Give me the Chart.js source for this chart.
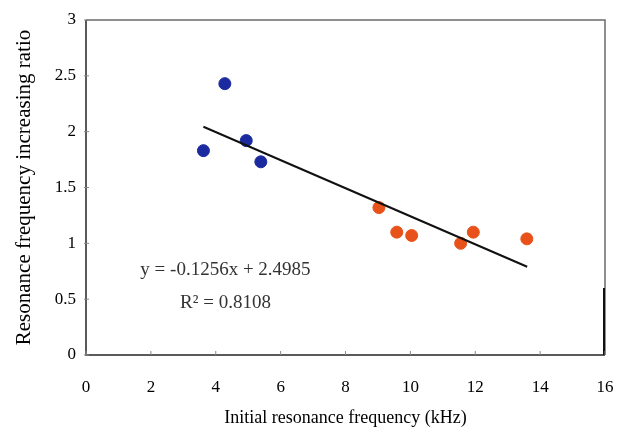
<!DOCTYPE html>
<html>
<head>
<meta charset="utf-8">
<script src="https://cdn.jsdelivr.net/npm/chart.js@4"></script>
<style>
	html, body { margin: 0; padding: 0; background: #fff; }
	#chart { display: block; }
</style>
</head>
<body>
<canvas id="chart" width="628" height="432"></canvas>
<script>
// **DATOS**
const blueX = [3.62, 4.28, 4.94, 5.39];
const blueY = [1.83, 2.43, 1.92, 1.73];
const orangeX = [9.03, 9.58, 10.04, 11.55, 11.94, 13.59];
const orangeY = [1.32, 1.10, 1.07, 1.00, 1.10, 1.04];
const trendX = [3.62, 13.6];
const trendY = [2.044, 0.79];
const xTicks = [0, 2, 4, 6, 8, 10, 12, 14, 16];
const yTicks = [0, 0.5, 1, 1.5, 2, 2.5, 3];
const equationLines = ['y = -0.1256x + 2.4985', 'R\u00B2 = 0.8108'];

const SERIF = '"Liberation Serif", "Times New Roman", serif';

/**
 * Junta dos arrays en puntos {x, y}.
 */
function toPoints(xs, ys) {
	return xs.map((x, i) => ({ x, y: ys[i] }));
}

/**
 * Dibuja el marco del área, las marcas de los ejes y la ecuación.
 */
const framePlugin = {
	id: 'frame',
	afterDatasetsDraw(chart) {
		const { ctx, chartArea: a, scales: { x, y } } = chart;
		ctx.save();
		// marco
		ctx.lineWidth = 1.5;
		ctx.strokeStyle = '#6b6b6b';
		ctx.beginPath();
		ctx.moveTo(a.left, a.top);
		ctx.lineTo(a.right, a.top);
		ctx.lineTo(a.right, a.bottom);
		ctx.stroke();
		ctx.lineWidth = 2;
		ctx.strokeStyle = '#5a5a5a';
		ctx.beginPath();
		ctx.moveTo(a.left, a.top);
		ctx.lineTo(a.left, a.bottom);
		ctx.lineTo(a.right, a.bottom);
		ctx.stroke();
		// tramo oscuro del borde derecho (como en el escaneo)
		ctx.strokeStyle = '#111';
		ctx.lineWidth = 2;
		ctx.beginPath();
		ctx.moveTo(a.right - 1, y.getPixelForValue(0.6));
		ctx.lineTo(a.right - 1, a.bottom);
		ctx.stroke();
		// marcas
		ctx.lineWidth = 1;
		ctx.strokeStyle = '#888';
		ctx.beginPath();
		xTicks.forEach(v => {
			const px = x.getPixelForValue(v);
			ctx.moveTo(px, a.bottom);
			ctx.lineTo(px, a.bottom - 4);
		});
		yTicks.forEach(v => {
			const py = y.getPixelForValue(v);
			ctx.moveTo(a.left - 2, py);
			ctx.lineTo(a.left + 3, py);
		});
		ctx.stroke();
		// ecuación
		ctx.fillStyle = '#333';
		ctx.font = '19px ' + SERIF;
		ctx.textAlign = 'center';
		ctx.textBaseline = 'middle';
		const cx = x.getPixelForValue(4.3);
		ctx.fillText(equationLines[0], cx, y.getPixelForValue(0.76));
		ctx.fillText(equationLines[1], cx, y.getPixelForValue(0.47));
		ctx.restore();
	}
};

/**
 * Crea el gráfico de dispersión.
 */
function createScatterChart() {
	new Chart(document.getElementById('chart'), {
		type: 'scatter',
		data: {
			datasets: [
				{
					type: 'line',
					data: toPoints(trendX, trendY),
					borderColor: '#111',
					borderWidth: 2,
					pointRadius: 0,
					fill: false,
				},
				{
					data: toPoints(blueX, blueY),
					backgroundColor: '#1c2aa0',
					borderColor: '#1c2aa0',
					pointRadius: 6,
				},
				{
					data: toPoints(orangeX, orangeY),
					backgroundColor: '#e8521a',
					borderColor: '#e8521a',
					pointRadius: 6,
				},
			],
		},
		options: {
			responsive: false,
			animation: false,
			devicePixelRatio: 1,
			layout: { padding: { top: 20, right: 23, left: 0, bottom: 0 } },
			plugins: { legend: { display: false }, tooltip: { enabled: false } },
			scales: {
				x: {
					type: 'linear',
					min: 0,
					max: 16,
					afterFit: s => { s.height = 77; s.paddingLeft = 0; s.paddingRight = 0; },
					afterBuildTicks: s => { s.ticks = xTicks.map(value => ({ value })); },
					grid: { display: false, drawTicks: false },
					border: { display: false },
					ticks: {
						padding: 22,
						color: '#000',
						font: { family: SERIF, size: 17 },
						callback: v => String(v),
					},
					title: {
						display: true,
						text: 'Initial resonance frequency (kHz)',
						color: '#000',
						font: { family: SERIF, size: 18, lineHeight: 1.2 },
						padding: { top: 0, bottom: 3 },
					},
				},
				y: {
					min: 0,
					max: 3,
					afterFit: s => { s.width = 86; s.paddingTop = 0; s.paddingBottom = 0; },
					afterBuildTicks: s => { s.ticks = yTicks.map(value => ({ value })); },
					grid: { display: false, drawTicks: false },
					border: { display: false },
					ticks: {
						padding: 10,
						color: '#000',
						font: { family: SERIF, size: 17 },
						callback: v => String(v),
					},
					title: {
						display: true,
						text: 'Resonance frequency increasing ratio',
						color: '#000',
						font: { family: SERIF, size: 21, lineHeight: 1.2 },
						padding: { top: 12, bottom: 0 },
					},
				},
			},
		},
		plugins: [framePlugin],
	});
}

document.addEventListener('DOMContentLoaded', createScatterChart);
</script>
</body>
</html>
